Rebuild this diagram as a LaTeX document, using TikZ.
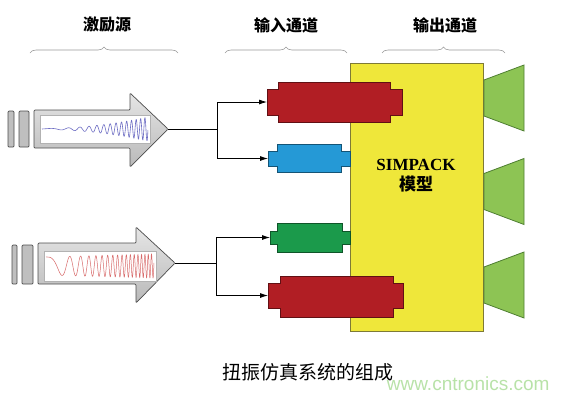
\documentclass[tikz,border=0pt]{standalone}
\usepackage{fontspec}
\setmainfont{Liberation Serif}
\newfontfamily\cjk{Noto Sans CJK SC}
\usetikzlibrary{decorations.pathreplacing,arrows.meta}
\definecolor{modelyellow}{HTML}{EFE73A}
\definecolor{modelline}{HTML}{7E7A36}
\definecolor{spkgreen}{HTML}{8DC454}
\definecolor{spkline}{HTML}{4F7F32}
\definecolor{chred}{HTML}{B11E24}
\definecolor{chblue}{HTML}{2599D6}
\definecolor{chgreen}{HTML}{1B9A4B}
\definecolor{wavblue}{HTML}{6E6EC4}
\definecolor{wavred}{HTML}{D86A6A}
\definecolor{wmark}{HTML}{B8E2A8}

\tikzset{
  bracegray/.style={decorate,decoration={brace,amplitude=6pt},gray!80,line width=0.6pt},
  head/.style={font=\cjk\bfseries\fontsize{16}{18}\selectfont},
  srcarrow/.style={top color=gray!20,bottom color=gray!55,draw=gray!60!black,line width=0.7pt,rounded corners=1pt},
  srcbar/.style={fill=gray!50,draw=gray!60!black,line width=0.7pt,rounded corners=1pt},
  window/.style={fill=white,draw=gray!60,line width=0.6pt},
  chan/.style={draw=#1!55!black,fill=#1,line width=0.7pt},
  spk/.style={fill=spkgreen,draw=spkline,line width=0.8pt},
  wire/.style={black,line width=0.8pt},
  tip/.style={-{Latex[length=8pt,width=5pt]}},
}

\begin{document}
\begin{tikzpicture}[x=1pt,y=-1pt]
  \useasboundingbox (0,0) rectangle (572,400);

  % headings and braces
  \node[head] (srclab) at (107,25) {激励源};
  \node[head] (inlab)  at (286,25) {输入通道};
  \node[head] (outlab) at (445,25) {输出通道};
  \draw[bracegray] (30,53) -- (178,53);
  \draw[bracegray] (225,53) -- (347,53);
  \draw[bracegray] (382,53) -- (505,53);

  % first source
  \draw[srcbar] (8,111) rectangle (14,147);
  \draw[srcbar] (19,111) rectangle (29,147);
  \draw[srcarrow] (34,110) -- (130,110) -- (130,93) -- (168,129) -- (130,167) -- (130,148) -- (34,148) -- cycle;
  \draw[window] (40,115) rectangle (150,143);
  \draw[wavblue,line width=0.6pt] plot[domain=0:1,samples=500]
    ({42+106*\x},{129-(0.5+11.5*\x*\x)*sin(360*(2*\x+12*\x*\x))});
  \coordinate (src1) at (168,129);

  % second source
  \draw[srcbar] (12,245) rectangle (17,284);
  \draw[srcbar] (22,245) rectangle (33,284);
  \draw[srcarrow] (38,243) -- (136,243) -- (136,227) -- (175,263) -- (136,303) -- (136,284) -- (38,284) -- cycle;
  \draw[window] (44,251) rectangle (156,281);
  \draw[wavred,line width=0.5pt] plot[domain=0:1,samples=900]
    ({46+108*\x},{266+(9+3*\x)*sin(360*(0.8*\x+17*\x*\x)-90)});
  \coordinate (src2) at (175,263);

  % SIMPACK model
  \draw[fill=modelyellow,draw=modelline,line width=0.8pt] (350,63) rectangle (483,331);
  \node[align=center,font=\fontsize{17}{21}\selectfont] (mdl) at (416,176)
    {\textbf{SIMPACK}\\[-1pt]{\cjk\bfseries 模型}};

  % output channels
  \foreach \c in {98,191.5,285}
    \draw[spk] (484,{\c-18}) -- (524,{\c-33}) -- (524,{\c+33}) -- (484,{\c+18}) -- cycle;

  % input channels
  \draw[chan=chred] (267,89) -- (278,89) -- (278,82) -- (390,82) -- (390,89) -- (402,89)
    -- (402,115) -- (390,115) -- (390,122) -- (278,122) -- (278,115) -- (267,115) -- cycle;
  \draw[chan=chblue] (268,151) -- (277,151) -- (277,144) -- (341,144) -- (341,151) -- (350,151)
    -- (350,166) -- (341,166) -- (341,172) -- (277,172) -- (277,166) -- (268,166) -- cycle;
  \draw[chan=chgreen] (270,231) -- (277,231) -- (277,223) -- (342,223) -- (342,231) -- (350,231)
    -- (350,244) -- (342,244) -- (342,252) -- (277,252) -- (277,244) -- (270,244) -- cycle;
  \draw[chan=chred] (268,283) -- (280,283) -- (280,276) -- (393,276) -- (393,283) -- (403,283)
    -- (403,308) -- (393,308) -- (393,317) -- (280,317) -- (280,308) -- (268,308) -- cycle;
  \coordinate (in1) at (267,102);
  \coordinate (in2) at (268,158.5);
  \coordinate (in3) at (270,237.5);
  \coordinate (in4) at (268,295.5);

  % wiring
  \coordinate (j1) at (217,129);
  \coordinate (j2) at (216,263);
  \draw[wire] (src1) -- (j1);
  \draw[wire,tip] (j1) |- (in1);
  \draw[wire,tip] (j1) |- (in2);
  \draw[wire] (src2) -- (j2);
  \draw[wire,tip] (j2) |- (in3);
  \draw[wire,tip] (j2) |- (in4);

  % caption and watermark
  \node[font=\cjk\fontsize{19}{21}\selectfont] (cap) at (308,372) {扭振仿真系统的组成};
  \node[font=\fontsize{19}{21}\selectfont,text=wmark,anchor=east] (wm) at (553,384)
    {\setmainfont{Liberation Sans}\rmfamily www.cntronics.com};
\end{tikzpicture}
\end{document}
